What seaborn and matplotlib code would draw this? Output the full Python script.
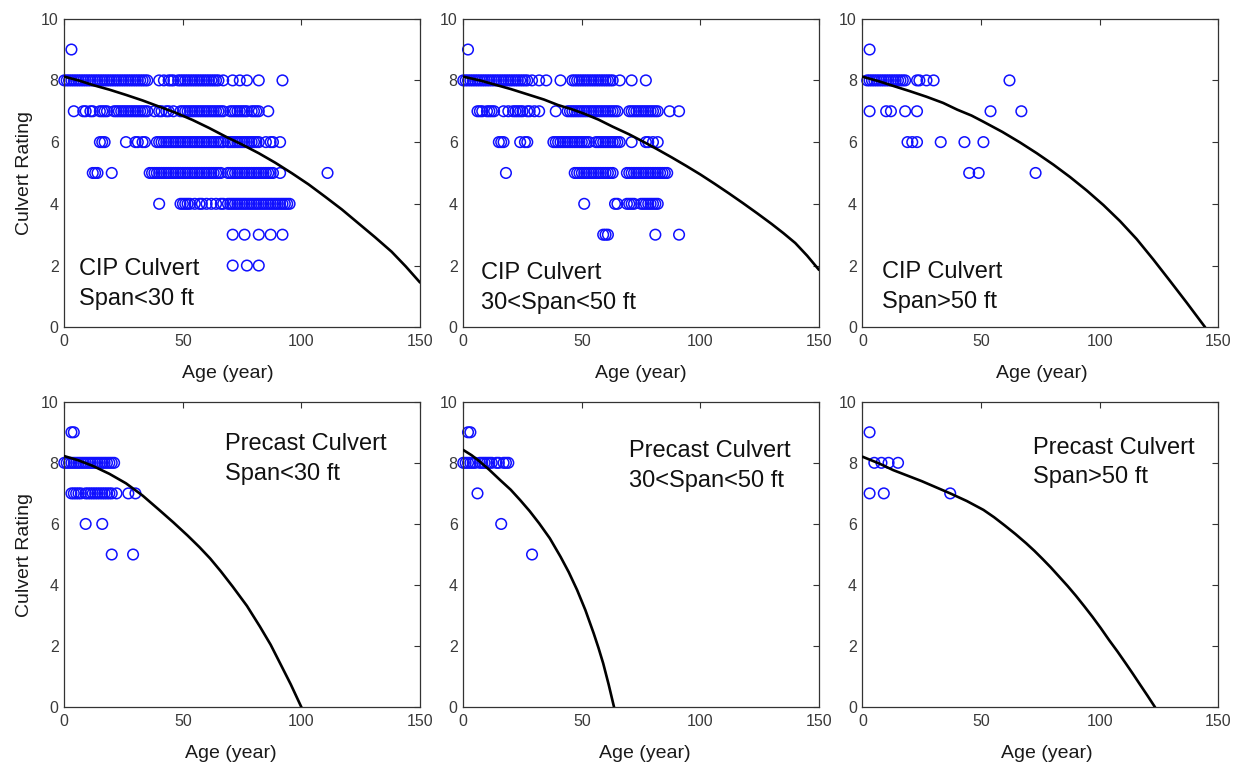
import matplotlib
matplotlib.use("Agg")
import matplotlib.pyplot as plt
import seaborn as sns
import pandas as pd

# ---------------- data ----------------
TITLES = ["CIP Culvert\nSpan<30 ft", "CIP Culvert\n30<Span<50 ft", "CIP Culvert\nSpan>50 ft",
          "Precast Culvert\nSpan<30 ft", "Precast Culvert\n30<Span<50 ft", "Precast Culvert\nSpan>50 ft"]
X_TICKS = [0, 50, 100, 150]
Y_TICKS = [0, 2, 4, 6, 8, 10]

# observed (age, rating) points, grouped by rating
CIP_SMALL = {
    9: [3],
    8: [0, 1, 2, 3, 4, 5, 6, 7, 8, 9, 10, 11, 12, 13, 14, 15, 16, 17, 18, 19, 20, 21, 22, 23, 24, 25,
        26, 27, 28, 29, 30, 31, 32, 33, 34, 35, 40, 42, 44, 45, 46, 48, 49, 50, 51, 52, 53, 54, 55, 56,
        57, 58, 59, 60, 61, 62, 63, 64, 65, 67, 71, 74, 77, 82, 92],
    7: [4, 8, 9, 11, 12, 15, 16, 17, 18, 21, 22, 23, 24, 25, 26, 27, 28, 29, 30, 31, 32, 33, 34, 35,
        38, 40, 41, 43, 44, 46, 49, 50, 51, 52, 53, 54, 55, 56, 57, 58, 59, 60, 61, 62, 63, 64, 65, 66,
        67, 70, 71, 72, 73, 74, 75, 76, 77, 79, 80, 81, 82, 86],
    6: [15, 16, 17, 26, 30, 31, 33, 34, 39, 40, 41, 42, 43, 44, 45, 46, 47, 48, 49, 50, 51, 52, 53,
        54, 55, 56, 57, 58, 59, 60, 61, 62, 63, 64, 65, 66, 67, 69, 70, 71, 72, 73, 74, 75, 76, 77, 78,
        79, 80, 81, 82, 85, 87, 88, 91],
    5: [12, 13, 14, 20, 36, 37, 38, 39, 40, 41, 42, 43, 44, 45, 46, 47, 48, 49, 50, 51, 52, 53, 54,
        55, 56, 57, 58, 59, 60, 61, 62, 63, 64, 65, 66, 69, 70, 71, 72, 73, 74, 75, 76, 77, 78, 79, 80,
        81, 82, 83, 84, 85, 86, 87, 88, 91, 111],
    4: [40, 49, 50, 51, 52, 53, 55, 57, 58, 60, 62, 64, 66, 67, 69, 70, 71, 72, 73, 74, 75, 76, 77,
        78, 79, 80, 81, 82, 83, 84, 85, 86, 87, 88, 89, 90, 91, 92, 93, 94, 95],
    3: [71, 76, 82, 87, 92],
    2: [71, 77, 82],
}
CIP_MID = {
    9: [2],
    8: [0, 1, 2, 3, 4, 5, 6, 7, 8, 9, 10, 11, 12, 13, 14, 15, 16, 17, 18, 19, 20, 21, 22, 23, 24, 25,
        26, 27, 29, 32, 35, 41, 46, 47, 48, 49, 50, 51, 52, 53, 54, 55, 56, 57, 58, 59, 60, 61, 62, 63,
        66, 71, 77],
    7: [6, 7, 8, 10, 11, 12, 13, 17, 19, 21, 22, 23, 24, 25, 27, 28, 30, 32, 39, 44, 45, 46, 47, 48,
        49, 50, 51, 52, 53, 54, 55, 56, 57, 58, 59, 60, 61, 62, 63, 64, 65, 70, 71, 72, 73, 74, 75, 76,
        77, 78, 79, 80, 81, 82, 87, 91],
    6: [15, 16, 17, 24, 26, 27, 38, 39, 40, 41, 42, 43, 44, 45, 46, 47, 48, 49, 50, 51, 52, 53, 56,
        57, 58, 59, 60, 61, 62, 63, 64, 65, 66, 71, 77, 78, 80, 82],
    5: [18, 47, 48, 49, 50, 51, 52, 53, 54, 55, 56, 57, 58, 59, 60, 61, 62, 63, 69, 70, 71, 72, 73,
        74, 75, 76, 77, 78, 79, 80, 81, 82, 83, 84, 85, 86],
    4: [51, 64, 65, 69, 70, 71, 72, 75, 76, 77, 78, 79, 80, 81, 82],
    3: [59, 60, 61, 81, 91],
}
CIP_LARGE = {
    9: [3],
    8: [2, 3, 4, 5, 6, 7, 8, 9, 10, 11, 12, 13, 14, 15, 16, 17, 18, 23, 24, 27, 30, 62],
    7: [3, 10, 12, 18, 23, 54, 67],
    6: [19, 21, 23, 33, 43, 51],
    5: [45, 49, 73],
}
PRE_SMALL = {
    9: [3, 4],
    8: [0, 1, 2, 3, 4, 5, 6, 7, 8, 9, 10, 11, 12, 13, 14, 15, 16, 17, 18, 19, 20, 21],
    7: [3, 4, 5, 6, 7, 9, 10, 11, 12, 13, 14, 15, 16, 17, 18, 19, 20, 22, 27, 30],
    6: [9, 16],
    5: [20, 29],
}
PRE_MID = {
    9: [2, 3],
    8: [0, 1, 2, 3, 4, 5, 7, 8, 9, 10, 11, 12, 14, 15, 17, 18, 19],
    7: [6],
    6: [16],
    5: [29],
}
PRE_LARGE = {
    9: [3],
    8: [5, 8, 11, 15],
    7: [3, 9, 37],
}

# fitted deterioration curves (age, rating)
CURVE_AGE_CIP_SMALL = [0, 6, 12, 19, 26, 33, 40, 47, 54, 61, 68, 75, 82, 89, 96, 103, 110, 117,
                       124, 131, 138, 144, 150]
CURVE_RAT_CIP_SMALL = [8.12, 8.0, 7.85, 7.7, 7.53, 7.35, 7.15, 6.95, 6.72, 6.46, 6.18, 5.92, 5.64,
                       5.33, 4.99, 4.63, 4.23, 3.82, 3.37, 2.92, 2.45, 1.97, 1.45]
CURVE_AGE_CIP_MID = [0, 7, 13, 20, 27, 34, 40, 46, 51, 57, 63, 70, 76, 82, 88, 94, 100, 106, 112,
                     118, 124, 130, 135, 140, 145, 150]
CURVE_RAT_CIP_MID = [8.12, 8.0, 7.87, 7.72, 7.55, 7.38, 7.2, 7.06, 6.92, 6.73, 6.5, 6.25, 6.01,
                     5.76, 5.5, 5.23, 4.95, 4.65, 4.34, 4.02, 3.69, 3.35, 3.05, 2.73, 2.32, 1.86]
CURVE_AGE_CIP_LARGE = [0, 7, 13, 20, 27, 34, 40, 46, 51, 59, 66.4, 73.5, 80.5, 87.5, 94.6, 101.6,
                       108.6, 115.6, 122.6, 129.7, 136.7, 144.5]
CURVE_RAT_CIP_LARGE = [8.12, 7.97, 7.82, 7.65, 7.47, 7.27, 7.05, 6.86, 6.66, 6.33, 5.99, 5.64, 5.27,
                       4.87, 4.43, 3.96, 3.44, 2.86, 2.2, 1.5, 0.8, 0.0]
CURVE_AGE_PRE_SMALL = [0, 6, 12, 19, 26, 33, 40, 46, 52, 57, 61.5, 66, 71, 77, 82.5, 87, 91, 95.5, 100]
CURVE_RAT_PRE_SMALL = [8.22, 8.08, 7.9, 7.64, 7.33, 6.93, 6.46, 6.05, 5.62, 5.24, 4.87, 4.45, 3.95,
                       3.32, 2.64, 2.05, 1.44, 0.75, 0.0]
CURVE_AGE_PRE_MID = [0, 3.5, 7, 11, 15.5, 20, 24, 28, 32, 36.5, 41, 44.5, 48, 51.5, 55, 57, 59,
                     61.3, 63.6]
CURVE_RAT_PRE_MID = [8.42, 8.25, 8.04, 7.77, 7.44, 7.12, 6.78, 6.42, 6.02, 5.53, 4.93, 4.42, 3.84,
                     3.18, 2.42, 1.95, 1.44, 0.75, 0.0]
CURVE_AGE_PRE_LARGE = [0, 7, 13, 19, 25, 31, 37, 44, 51, 55.5, 60, 64.5, 69, 72.5, 76, 79.5, 83,
                       86.5, 90, 93.5, 97, 100.5, 104, 107.5, 111, 114, 117, 120.2, 123.4]
CURVE_RAT_PRE_LARGE = [8.2, 7.98, 7.76, 7.58, 7.4, 7.2, 7.0, 6.75, 6.46, 6.22, 5.95, 5.67, 5.37,
                       5.12, 4.85, 4.57, 4.27, 3.97, 3.65, 3.31, 2.96, 2.59, 2.2, 1.83, 1.44, 1.1,
                       0.75, 0.38, 0.0]

# ---------------- styling ----------------
sns.set_style("white")
plt.rcParams["font.family"] = ["Liberation Sans", "DejaVu Sans"]

fig = plt.figure(figsize=(12.39, 7.65), dpi=100)

COL_LEFT = [0.0519, 0.3739, 0.6961]
AX_W = 0.2871
ROW_BOTTOM = [0.5722, 0.0754]
ROW_H = [0.4034, 0.3995]

panels = [
    (CIP_SMALL, CURVE_AGE_CIP_SMALL, CURVE_RAT_CIP_SMALL),
    (CIP_MID, CURVE_AGE_CIP_MID, CURVE_RAT_CIP_MID),
    (CIP_LARGE, CURVE_AGE_CIP_LARGE, CURVE_RAT_CIP_LARGE),
    (PRE_SMALL, CURVE_AGE_PRE_SMALL, CURVE_RAT_PRE_SMALL),
    (PRE_MID, CURVE_AGE_PRE_MID, CURVE_RAT_PRE_MID),
    (PRE_LARGE, CURVE_AGE_PRE_LARGE, CURVE_RAT_PRE_LARGE),
]
text_pos = [(6.0, 2.24), (7.4, 2.10), (8.4, 2.15), (67.7, 8.97), (69.9, 8.74), (71.9, 8.85)]
xlabel_x = [0.46, 0.50, 0.505, 0.468, 0.509, 0.517]

for i, (points, c_age, c_rat) in enumerate(panels):
    r, c = divmod(i, 3)
    ax = fig.add_axes([COL_LEFT[c], ROW_BOTTOM[r], AX_W, ROW_H[r]])
    ages, ratings = [], []
    for rating, alist in points.items():
        ages += alist
        ratings += [rating] * len(alist)
    df = pd.DataFrame({"age": ages, "rating": ratings})
    sns.scatterplot(data=df, x="age", y="rating", ax=ax, marker="o", s=58,
                    facecolor="none", edgecolor="#1010ff", linewidth=1.1, clip_on=False, zorder=2)
    coll = ax.collections[-1]
    coll.set_facecolor("none")
    coll.set_edgecolor("#1010ff")
    coll.set_linewidth(1.1)
    cdf = pd.DataFrame({"age": c_age, "rating": c_rat})
    sns.lineplot(data=cdf, x="age", y="rating", ax=ax, color="black", linewidth=1.9,
                 estimator=None, sort=True, zorder=3)

    ax.set_xlim(0, 150)
    ax.set_ylim(0, 10)
    ax.set_xticks(X_TICKS)
    ax.set_yticks(Y_TICKS)
    ax.tick_params(direction="in", top=True, right=True, length=4, width=0.8,
                   labelsize=11.5, labelcolor="#3a3a3a", color="#333333")
    ax.tick_params(axis="x", pad=5)
    ax.tick_params(axis="y", pad=4)
    for sp in ax.spines.values():
        sp.set_color("#333333")
        sp.set_linewidth(0.9)
        sp.set_visible(True)

    ax.set_xlabel("Age (year)", fontsize=14, color="#1a1a1a")
    ax.xaxis.set_label_coords(xlabel_x[i], -0.122)
    if c == 0:
        ax.set_ylabel("Culvert Rating", fontsize=14, color="#1a1a1a")
        ax.yaxis.set_label_coords(-0.088, 0.5)
    else:
        ax.set_ylabel("")

    tx, ty = text_pos[i]
    ax.text(tx, ty, TITLES[i], fontsize=17, color="#111111", ha="left", va="top",
            linespacing=1.45)

fig.savefig("out.png", dpi=100)
